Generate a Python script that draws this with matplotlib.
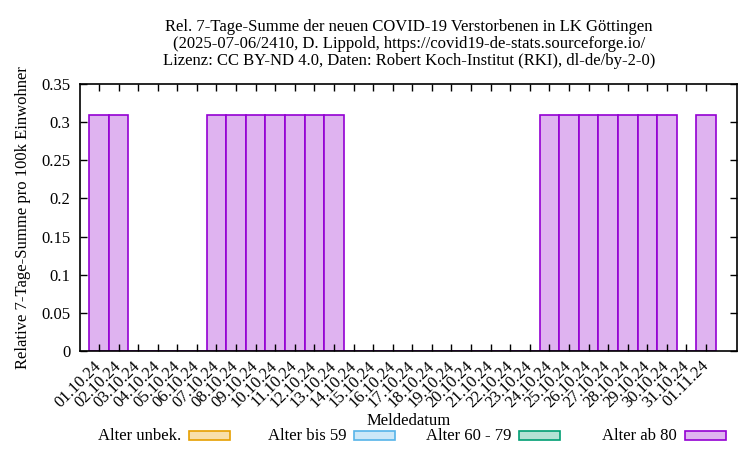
import matplotlib
matplotlib.use("Agg")
import matplotlib.pyplot as plt
from matplotlib.patches import Rectangle

plt.rcParams['font.family'] = ['Liberation Serif', 'DejaVu Serif']

# Meldedatum labels (01.10.24 - 01.11.24)
dates = ['01.10.24', '02.10.24', '03.10.24', '04.10.24', '05.10.24', '06.10.24',
         '07.10.24', '08.10.24', '09.10.24', '10.10.24', '11.10.24', '12.10.24',
         '13.10.24', '14.10.24', '15.10.24', '16.10.24', '17.10.24', '18.10.24',
         '19.10.24', '20.10.24', '21.10.24', '22.10.24', '23.10.24', '24.10.24',
         '25.10.24', '26.10.24', '27.10.24', '28.10.24', '29.10.24', '30.10.24',
         '31.10.24', '01.11.24']

# relative 7-day sum per 100k, age group 80+
ab80 = [0.31, 0.31, 0, 0, 0, 0,
        0.31, 0.31, 0.31, 0.31, 0.31, 0.31,
        0.31, 0, 0, 0, 0, 0,
        0, 0, 0, 0, 0, 0.31,
        0.31, 0.31, 0.31, 0.31, 0.31, 0.31,
        0, 0.31]

legend_labels = ['Alter unbek.', 'Alter bis 59', 'Alter 60 - 79', 'Alter ab 80']
edge_colors = ['#e69f00', '#56b4e9', '#009e73', '#9400d3']
fill_colors = ['#f8dfaa', '#cce8f8', '#b3e2d5', '#dfb3f0']

FS = 12

fig = plt.figure(figsize=(7.5, 4.5), dpi=100)
ax = fig.add_axes([80 / 750, 1 - 351 / 450, (737 - 80) / 750, (351 - 84) / 450])

x = list(range(len(dates)))
ax.bar(x, ab80, width=1.0, color=fill_colors[3], edgecolor=edge_colors[3], linewidth=1.2)

ax.set_xlim(-0.97, 32.58)
ax.set_ylim(0, 0.35)
ax.set_yticks([0, 0.05, 0.1, 0.15, 0.2, 0.25, 0.3, 0.35])
ax.set_yticklabels(['0', '0.05', '0.1', '0.15', '0.2', '0.25', '0.3', '0.35'])
ax.set_xticks(x)
ax.set_xticklabels(dates, rotation=45, ha='right', va='center', rotation_mode='anchor')
ax.tick_params(direction='in', top=True, right=True, length=5, width=1, labelsize=FS, pad=7)
ax.tick_params(axis='x', pad=9)
for s in ax.spines.values():
    s.set_linewidth(1.2)

ax.set_ylabel('Relative 7-Tage-Summe pro 100k Einwohner', fontsize=FS, labelpad=7)
fig.text(409 / 750, 1 - 421 / 450, 'Meldedatum', ha='center', va='center', fontsize=FS)

fig.text(409 / 750, 1 - 44 / 450,
         'Rel. 7-Tage-Summe der neuen COVID-19 Verstorbenen in LK Göttingen\n'
         '(2025-07-06/2410, D. Lippold, https://covid19-de-stats.sourceforge.io/\n'
         'Lizenz: CC BY-ND 4.0, Daten: Robert Koch-Institut (RKI), dl-de/by-2-0)',
         ha='center', va='center', fontsize=FS, linespacing=1.08)

# legend row at the bottom: text right-aligned before sample box
box_left = [189, 354, 519, 685]
for lbl, ec, fc, bx in zip(legend_labels, edge_colors, fill_colors, box_left):
    fig.text((bx - 8) / 750, 1 - 436 / 450, lbl, ha='right', va='center', fontsize=FS)
    fig.patches.append(Rectangle((bx / 750, 1 - 440 / 450), 41 / 750, 9 / 450,
                                 transform=fig.transFigure, facecolor=fc,
                                 edgecolor=ec, linewidth=1.2))

fig.savefig('out.png', dpi=100)
